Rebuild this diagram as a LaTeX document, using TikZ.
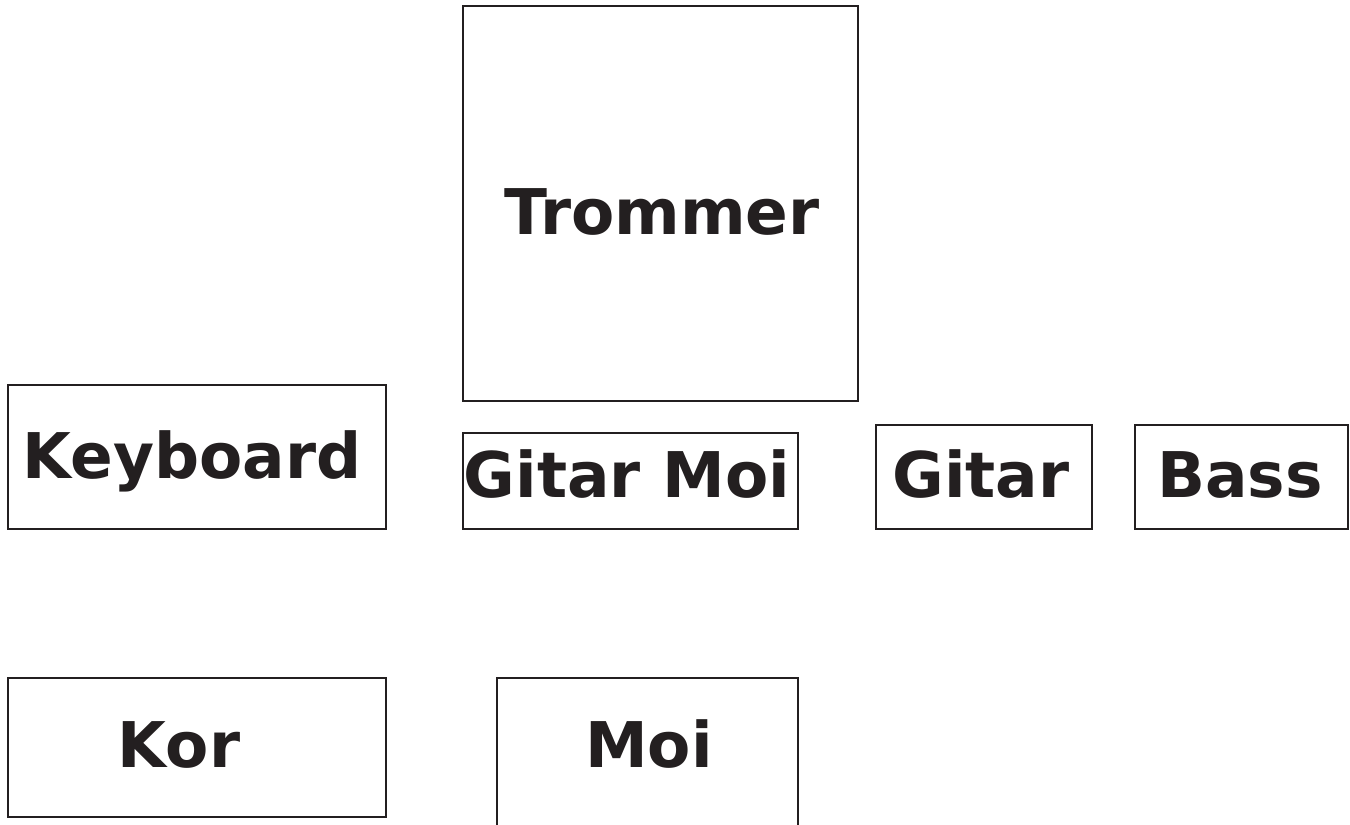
\documentclass[tikz,border=0pt]{standalone}
\usepackage{fontspec}
\setmainfont{DejaVu Sans}
\definecolor{ink}{HTML}{231F20}
\begin{document}
\begin{tikzpicture}[x=1pt,y=-1pt,
  box/.style={draw=ink,line width=2.2pt,inner sep=0pt},
  lbl/.style={font=\bfseries\fontsize{63}{68}\selectfont,text=ink,anchor=base,inner sep=0pt}]
\useasboundingbox (0,0) rectangle (1350,825);
\clip (0,0) rectangle (1350,825);
\draw[box] (463,6) rectangle (858,401);
\draw[box] (8,385) rectangle (386,529);
\draw[box] (463,433) rectangle (798,529);
\draw[box] (876,425) rectangle (1092,529);
\draw[box] (1135,425) rectangle (1348,529);
\draw[box] (8,678) rectangle (386,817);
\draw[box] (497,678) rectangle (798,840);
\node[lbl] (trommer) at (662,234) {Trommer};
\node[lbl] (keyboard) at (192,478) {Keyboard};
\node[lbl] (gitarmoi) at (627,497) {Gitar Moi};
\node[lbl] (gitar) at (981,497) {Gitar};
\node[lbl] (bass) at (1240,497) {Bass};
\node[lbl] (kor) at (179,767) {Kor};
\node[lbl] (moi) at (649,767) {Moi};
\end{tikzpicture}
\end{document}
